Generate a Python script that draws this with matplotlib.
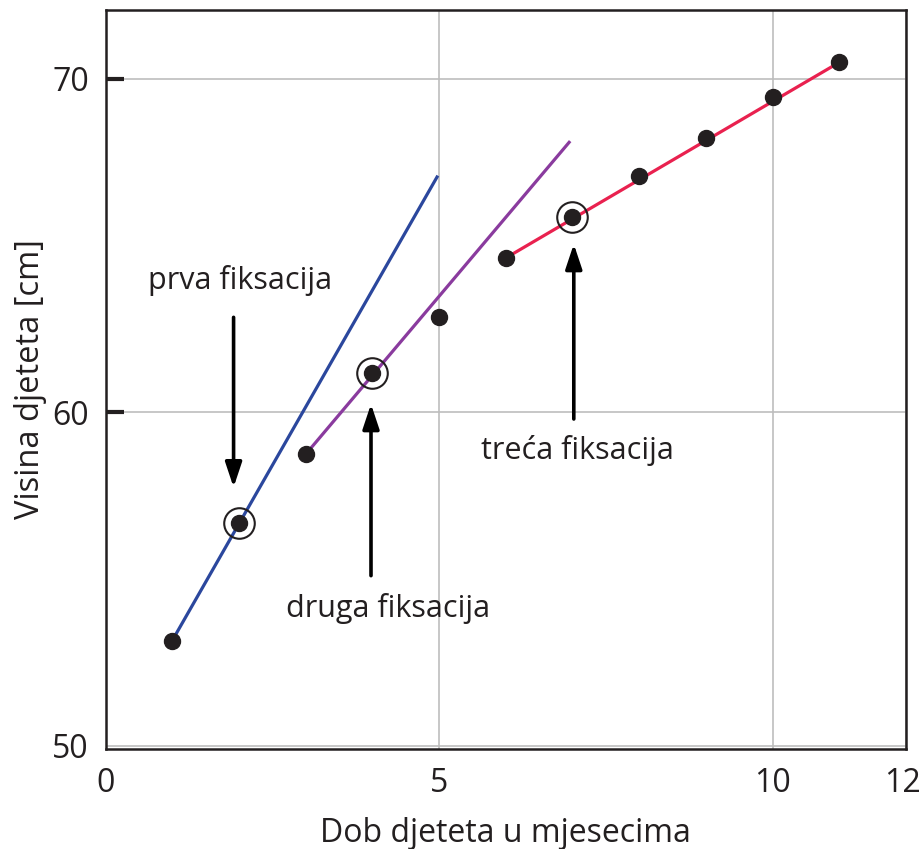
import numpy as np
import matplotlib.pyplot as plt
from matplotlib.transforms import ScaledTranslation

plt.rcParams['font.family'] = ['Open Sans', 'DejaVu Sans']

# dob djeteta (mjeseci) i visina (cm)
mjeseci = [1, 2, 3, 4, 5, 6, 7, 8, 9, 10, 11]
visina = [53.15, 56.68, 58.74, 61.18, 62.85, 64.63, 65.86, 67.10, 68.24, 69.47, 70.50]

# fiksacije (zaokruzene tocke)
fiks_x = [2, 4, 7]
fiks_y = [56.68, 61.18, 65.86]

# pravci
prvi_x = [1, 4.97]
prvi_y = [53.15, 67.06]
drugi_x = [3, 6.95]
drugi_y = [58.74, 68.10]
treci_x = [6, 11]
treci_y = [64.63, 70.50]

oznake = ['prva fiksacija', 'druga fiksacija', 'treća fiksacija']
tekst_xy = [(2.02, 63.95), (4.24, 54.1), (7.08, 58.85)]
strelica_od = [(1.92, 62.85), (3.98, 55.1), (7.02, 59.8)]
strelica_do = [(1.92, 57.75), (3.98, 60.25), (7.02, 65.05)]

xticks = [0, 5, 10, 12]
yticks = [50, 60, 70]

fig = plt.figure(figsize=(9.22, 8.49), dpi=100)
ax = fig.add_axes([105.5/922, 1-749/849, 800.5/922, 739/849])

ax.plot(prvi_x, prvi_y, color='#2b479d', lw=2.3, zorder=2)
ax.plot(drugi_x, drugi_y, color='#8a3b9e', lw=2.3, zorder=2)
ax.plot(treci_x, treci_y, color='#e9214f', lw=2.3, zorder=2)

ax.plot(mjeseci, visina, 'o', color='#231f20', ms=11.5, zorder=3)
ax.plot(fiks_x, fiks_y, 'o', mfc='none', mec='#231f20', mew=1.5, ms=22, zorder=3)

for t, txy, a, b in zip(oznake, tekst_xy, strelica_od, strelica_do):
    ax.text(txy[0], txy[1], t, fontsize=22, ha='center', va='center', color='#231f20')
    ax.annotate('', xy=b, xytext=a,
                arrowprops=dict(arrowstyle='-|>,head_length=1.5,head_width=0.5',
                                color='black', lw=2.6, shrinkA=0, shrinkB=0))

ax.set_xlim(0, 12)
ax.set_ylim(49.9, 72.07)
ax.set_xticks(xticks)
ax.set_yticks(yticks)
ax.tick_params(axis='x', length=0, pad=13, labelsize=23, labelcolor='#231f20')
ax.tick_params(axis='y', direction='in', length=13, width=3, pad=12,
               labelsize=23, labelcolor='#231f20', color='#231f20')
ax.yaxis.get_major_ticks()[0].tick1line.set_visible(False)
# "12" malo ulijevo da stane u sliku
lab12 = ax.get_xticklabels()[-1]
lab12.set_transform(lab12.get_transform() + ScaledTranslation(-0.04, 0, fig.dpi_scale_trans))
ax.grid(True, color='#bdbdbd', lw=1.2)
ax.set_axisbelow(True)
for s in ax.spines.values():
    s.set_linewidth(1.8)
    s.set_color('#231f20')

ax.set_xlabel('Dob djeteta u mjesecima', fontsize=23, color='#231f20', labelpad=12)
ax.set_ylabel('Visina djeteta [cm]', fontsize=23.5, color='#231f20', labelpad=4)

fig.savefig('out.png', dpi=100)
